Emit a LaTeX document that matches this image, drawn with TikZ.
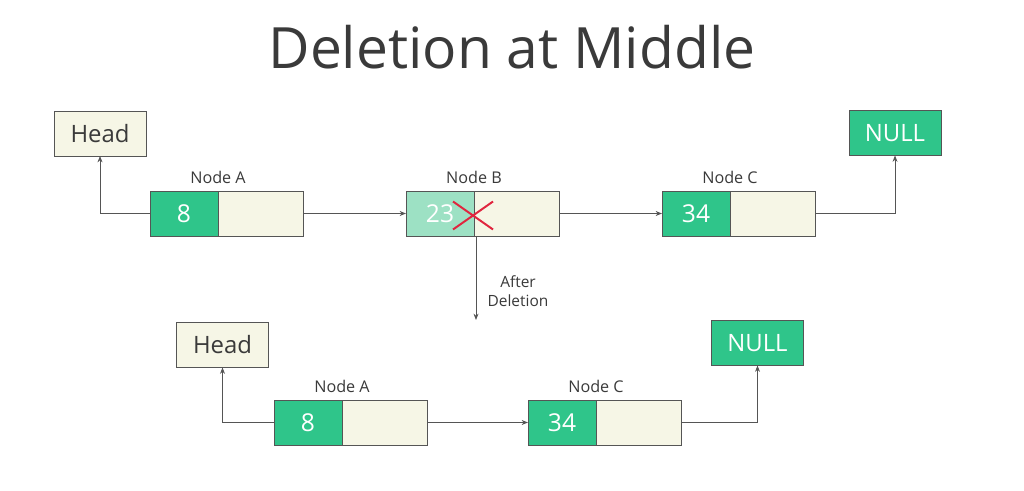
\documentclass[tikz,border=0pt]{standalone}
\usepackage{fontspec}
\setmainfont{Open Sans}
\usetikzlibrary{positioning,arrows.meta}

\definecolor{darkgreen}{HTML}{2FC58A}
\definecolor{lightgreen}{HTML}{9DE1C4}
\definecolor{cream}{HTML}{F6F6E6}
\definecolor{edgegray}{HTML}{555555}
\definecolor{crossred}{HTML}{E0263F}
\definecolor{textgray}{HTML}{3A3A3A}

\begin{document}
\begin{tikzpicture}[
        x=0.025cm, y=-0.025cm,
        every node/.style={inner sep=0pt, outer sep=0pt},
        cell/.style={rectangle, draw=edgegray, line width=0.6pt, minimum height=1.125cm},
        datacell/.style={cell, fill=darkgreen, minimum width=1.7cm, text=white, font=\fontsize{17.5}{20}\selectfont},
        nextcell/.style={cell, fill=cream, minimum width=2.125cm},
        headbox/.style={cell, fill=cream, minimum width=2.3cm, text=textgray, font=\fontsize{17}{20}\selectfont},
        nullbox/.style={headbox, fill=darkgreen, text=white},
        nodelabel/.style={text=textgray, font=\fontsize{11.5}{14}\selectfont},
        link/.style={draw=edgegray, line width=0.6pt, -{Stealth[length=4.5pt,width=3.5pt]}},
        cross/.style={draw=crossred, line width=1.4pt}
        ]
        \fill[white] (0,0) rectangle (1024,491);
        \useasboundingbox (0,0) rectangle (1024,491);

        \node[text=textgray, font=\fontsize{40.5}{48}\selectfont] (title) at (512,47) {Deletion at Middle};

        % list before deletion
        \node[headbox] (head1) at (100,133.5) {Head};
        \node[nullbox] (null1) at (895,133) {NULL};

        \node[datacell] (dataA1) at (184,213.5) {8};
        \node[nextcell, right=0pt of dataA1] (nextA1) {};
        \node[nodelabel, above=0.18cm of dataA1.north east] (labA1) {Node A};

        \node[datacell, fill=lightgreen] (dataB1) at (440,213.5) {23};
        \node[nextcell, right=0pt of dataB1] (nextB1) {};
        \node[nodelabel, above=0.18cm of dataB1.north east] (labB1) {Node B};

        \node[datacell] (dataC1) at (696,213.5) {34};
        \node[nextcell, right=0pt of dataC1] (nextC1) {};
        \node[nodelabel, above=0.18cm of dataC1.north east] (labC1) {Node C};

        \draw[link] (dataA1.west) -| (head1.south);
        \draw[link] (nextA1.east) -- (dataB1.west);
        \draw[link] (nextB1.east) -- (dataC1.west);
        \draw[link] (nextC1.east) -| (null1.south);

        \draw[cross] ([shift={(-21,-12)}]dataB1.east) -- ([shift={(19,16)}]dataB1.east)
                     ([shift={(-21,16)}]dataB1.east) -- ([shift={(19,-12)}]dataB1.east);

        \coordinate (afterend) at (476,320);
        \draw[link] (dataB1.south east -| afterend) -- (afterend);
        \node[nodelabel, align=center, font=\fontsize{11}{13.5}\selectfont] (after) at (518,291) {After\\Deletion};

        % list after deletion
        \node[headbox] (head2) at (222.5,345) {Head};
        \node[nullbox] (null2) at (757.5,343) {NULL};

        \node[datacell] (dataA2) at (308,422.5) {8};
        \node[nextcell, right=0pt of dataA2] (nextA2) {};
        \node[nodelabel, above=0.18cm of dataA2.north east] (labA2) {Node A};

        \node[datacell] (dataC2) at (562,422.5) {34};
        \node[nextcell, right=0pt of dataC2] (nextC2) {};
        \node[nodelabel, above=0.18cm of dataC2.north east] (labC2) {Node C};

        \draw[link] (dataA2.west) -| (head2.south);
        \draw[link] (nextA2.east) -- (dataC2.west);
        \draw[link] (nextC2.east) -| (null2.south);
\end{tikzpicture}
\end{document}
